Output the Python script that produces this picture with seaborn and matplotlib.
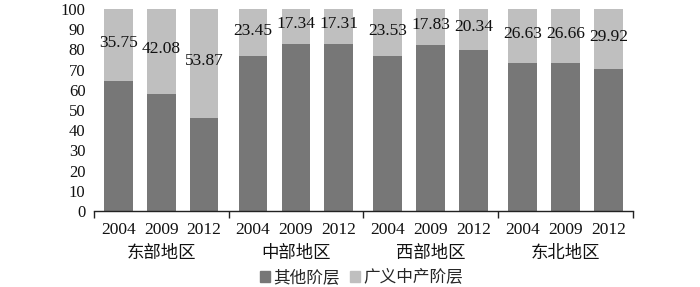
import numpy as np
import pandas as pd
import matplotlib
matplotlib.use("Agg")
import matplotlib.pyplot as plt
from matplotlib.patches import Patch
import seaborn as sns

# Data
regions = ["东部地区", "中部地区", "西部地区", "东北地区"]
years = ["2004", "2009", "2012"]
middle_class = [35.75, 42.08, 53.87,
                23.45, 17.34, 17.31,
                23.53, 17.83, 20.34,
                26.63, 26.66, 29.92]
series_names = ["其他阶层", "广义中产阶层"]

dark = "#777777"
light = "#bfbfbf"

sns.set_theme(style="white")
plt.rcParams["font.family"] = ["Liberation Serif", "Noto Sans CJK SC", "DejaVu Sans"]

# bar positions: three bars per region, slightly wider gap between regions
group_w = 3.14
pos = []
for g in range(len(regions)):
    for i in range(len(years)):
        pos.append(g * group_w + 0.57 + i)

df = pd.DataFrame({
    "pos": pos,
    "year": years * len(regions),
    "middle": middle_class,
})
df["other"] = 100 - df["middle"]
df["total"] = df["other"] + df["middle"]

fig = plt.figure(figsize=(7, 2.87), dpi=100)
ax = fig.add_axes([0.134, 0.265, 0.770, 0.704])

# light segment drawn as full stack, dark segment on top of it
sns.barplot(data=df, x="pos", y="total", native_scale=True, color=light,
            width=0.67, saturation=1, linewidth=0, ax=ax)
sns.barplot(data=df, x="pos", y="other", native_scale=True, color=dark,
            width=0.67, saturation=1, linewidth=0, ax=ax)

for _, r in df.iterrows():
    ax.text(r["pos"], r["other"] + r["middle"] / 2 + 1, f"{r['middle']:.2f}",
            ha="center", va="center", fontsize=12.5, color="#111111")

ax.set_xlim(0, group_w * len(regions))
ax.set_ylim(0, 100)
ax.set_yticks(range(0, 101, 10))
ax.tick_params(axis="y", length=0, labelsize=12, pad=6, labelcolor="#111111")
ax.set_xticks(pos)
ax.set_xticklabels(df["year"], fontsize=12.5, color="#111111")
ax.tick_params(axis="x", which="major", length=0, pad=8)
ax.set_xticks([g * group_w for g in range(len(regions) + 1)], minor=True)
ax.tick_params(axis="x", which="minor", length=5, width=1, color="#222222",
               direction="out", bottom=True)
ax.set_xlabel("")
ax.set_ylabel("")

for s in ["left", "right", "top"]:
    ax.spines[s].set_visible(False)
ax.spines["bottom"].set_color("#222222")
ax.spines["bottom"].set_linewidth(1)

for g, name in enumerate(regions):
    ax.text((g + 0.5) * group_w, -0.215, name, transform=ax.get_xaxis_transform(),
            ha="center", va="center", fontsize=12.5, color="#111111")

handles = [Patch(color=dark, label=series_names[0]),
           Patch(color=light, label=series_names[1])]
fig.legend(handles=handles, loc="center", bbox_to_anchor=(0.516, 0.03), ncol=2,
           frameon=False, fontsize=12, handlelength=0.6, handleheight=0.6,
           handletextpad=0.2, columnspacing=0.6, borderpad=0.1)

fig.savefig("out.png", dpi=100)
